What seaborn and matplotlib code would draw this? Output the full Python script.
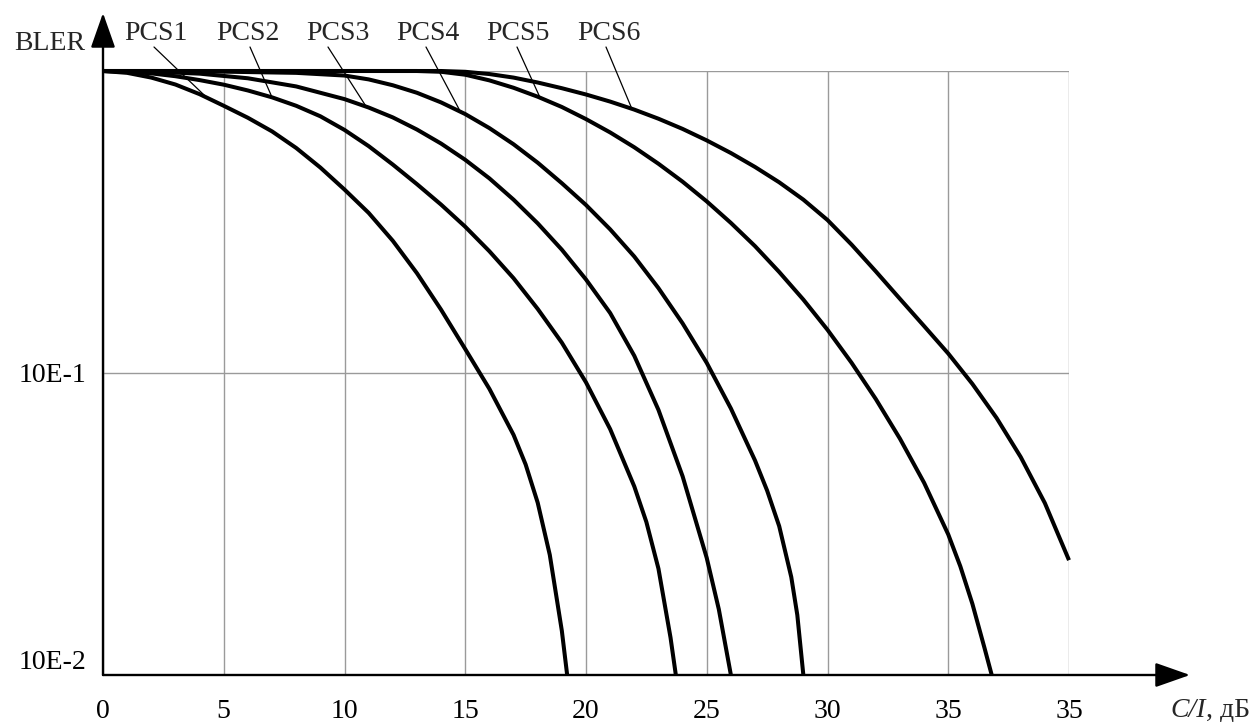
import numpy as np
import pandas as pd
import matplotlib
matplotlib.use("Agg")
import matplotlib.pyplot as plt
from matplotlib.ticker import NullLocator
import seaborn as sns

# C/I (dB) and BLER
ci_pcs1 = [0, 1, 2, 3, 4, 5, 6, 7, 8, 9, 10, 11, 12, 13, 14, 15, 16, 17, 17.5, 18, 18.5, 19, 19.22]
bler_pcs1 = [1.0, 0.986, 0.951, 0.902, 0.838, 0.767, 0.700, 0.631, 0.556, 0.479, 0.405, 0.339,
             0.274, 0.214, 0.162, 0.120, 0.0886, 0.0624, 0.0498, 0.0372, 0.0250, 0.0140, 0.0100]

ci_pcs2 = [0, 1, 2, 3, 4, 5, 6, 7, 8, 9, 10, 11, 12, 13, 14, 15, 16, 17, 18, 19, 20, 21, 22,
           22.5, 23, 23.5, 23.72]
bler_pcs2 = [1.0, 0.995, 0.982, 0.961, 0.933, 0.901, 0.862, 0.818, 0.767, 0.708, 0.638, 0.564,
             0.490, 0.422, 0.361, 0.305, 0.253, 0.206, 0.163, 0.126, 0.0931, 0.0652, 0.0421,
             0.0321, 0.0225, 0.0133, 0.0100]

ci_pcs3 = [0, 2, 4, 6, 8, 10, 11, 12, 13, 14, 15, 16, 17, 18, 19, 20, 21, 22, 23, 24, 25, 25.5, 26]
bler_pcs3 = [1.0, 0.995, 0.980, 0.946, 0.889, 0.807, 0.757, 0.702, 0.640, 0.575, 0.508, 0.441,
             0.375, 0.313, 0.256, 0.204, 0.158, 0.114, 0.0755, 0.0455, 0.0244, 0.0165, 0.0100]

ci_pcs4 = [0, 5, 8, 10, 11, 12, 13, 14, 15, 16, 17, 18, 19, 20, 21, 22, 23, 24, 25, 26, 27, 27.5,
           28, 28.5, 28.75, 29]
bler_pcs4 = [1.0, 0.995, 0.986, 0.966, 0.938, 0.897, 0.847, 0.787, 0.720, 0.647, 0.572, 0.497,
             0.425, 0.360, 0.299, 0.243, 0.191, 0.146, 0.108, 0.0763, 0.0513, 0.0408, 0.0311,
             0.0211, 0.0158, 0.0100]

ci_pcs5 = [0, 5, 10, 13, 14, 15, 16, 17, 18, 19, 20, 21, 22, 23, 24, 25, 26, 27, 28, 29, 30, 31,
           32, 33, 34, 35, 35.5, 36, 36.5, 36.8]
bler_pcs5 = [1.0, 1.0, 1.0, 1.0, 0.994, 0.972, 0.931, 0.880, 0.822, 0.760, 0.693, 0.626, 0.559,
             0.493, 0.430, 0.370, 0.314, 0.263, 0.216, 0.175, 0.139, 0.108, 0.0820, 0.0606,
             0.0433, 0.0292, 0.0229, 0.0172, 0.0123, 0.0100]

ci_pcs6 = [0, 5, 10, 14, 15, 16, 17, 18, 19, 20, 21, 22, 23, 24, 25, 26, 27, 28, 29, 30, 31, 32,
           33, 34, 35, 36, 37, 38, 39, 40]
bler_pcs6 = [1.0, 1.0, 1.0, 1.0, 0.994, 0.977, 0.951, 0.916, 0.877, 0.836, 0.792, 0.745, 0.695,
             0.643, 0.589, 0.535, 0.481, 0.428, 0.375, 0.321, 0.266, 0.217, 0.176, 0.143, 0.116,
             0.0920, 0.0710, 0.0527, 0.0371, 0.0240]

schemes = ["PCS1", "PCS2", "PCS3", "PCS4", "PCS5", "PCS6"]
x_ticks = [0, 5, 10, 15, 20, 25, 30, 35, 40]
x_tick_labels = ["0", "5", "10", "15", "20", "25", "30", "35", "35"]
y_ticks = [0.01, 0.1, 1.0]
y_tick_labels = ["10E-2", "10E-1", ""]
# C/I where each name's leader line meets its curve
leader_ci = [4.3, 7.0, 10.9, 14.8, 18.1, 21.9]

curves = [(ci_pcs1, bler_pcs1), (ci_pcs2, bler_pcs2), (ci_pcs3, bler_pcs3),
          (ci_pcs4, bler_pcs4), (ci_pcs5, bler_pcs5), (ci_pcs6, bler_pcs6)]
df = pd.concat([pd.DataFrame({"ci": x, "bler": y, "scheme": name})
                for name, (x, y) in zip(schemes, curves)], ignore_index=True)

sns.set_theme(style="white")
plt.rcParams["font.family"] = ["Liberation Serif", "DejaVu Serif"]
FS = 20

W, H = 1257, 722
fig = plt.figure(figsize=(W / 100, H / 100), dpi=100)
ax = fig.add_axes([103 / W, 47 / H, 966 / W, 604 / H])

sns.lineplot(data=df, x="ci", y="bler", hue="scheme", palette=["black"] * 6,
             sort=False, estimator=None, legend=False, linewidth=2.9, ax=ax)
for ln in ax.lines:
    ln.set_clip_on(False)
    ln.set_solid_capstyle("butt")
    ln.set_solid_joinstyle("round")

ax.set_yscale("log")
ax.set_xlim(0, 40)
ax.set_ylim(0.01, 1.0)
ax.set_xticks(x_ticks)
ax.set_xticklabels(x_tick_labels)
ax.set_yticks(y_ticks)
ax.set_yticklabels(y_tick_labels)
ax.yaxis.set_minor_locator(NullLocator())
ax.xaxis.set_minor_locator(NullLocator())
ax.tick_params(axis="both", length=0, labelsize=FS, colors="black")
ax.tick_params(axis="x", pad=17)
ax.tick_params(axis="y", pad=12)
ax.set_xlabel("")
ax.set_ylabel("")
ax.grid(True, which="major", color="#9a9a9a", linewidth=1.0)
ax.set_axisbelow(True)
for s in ax.spines.values():
    s.set_visible(False)
ax.get_yticklabels()[0].set_va("bottom")

# axes drawn as arrows
arrow = dict(arrowstyle="-|>,head_length=1.08,head_width=0.38", mutation_scale=20,
             lw=1.7, color="black", shrinkA=0, shrinkB=0)
ax.annotate("", xy=(0, (675 - 13) / 604), xytext=(0, 0), xycoords="axes fraction",
            arrowprops=arrow, annotation_clip=False)
ax.annotate("", xy=((1190 - 103) / 966, 0), xytext=(0, 0), xycoords="axes fraction",
            arrowprops=arrow, annotation_clip=False)

fig.text(85 / W, 1 - 50 / H, "BLER", ha="right", va="baseline", fontsize=FS)
t_ci = fig.text(1170 / W, 5 / H, "C/I", ha="left", va="baseline", fontsize=FS, style="italic")
ax.annotate(", дБ", xy=(1, 0), xycoords=t_ci, ha="left", va="bottom", fontsize=FS,
            annotation_clip=False)

# scheme names with leader lines
label_x = [156, 248, 338, 428, 518, 609]
leader_top = [154, 250, 328, 426, 517, 606]
for name, (x, y), lx, tx, cx in zip(schemes, curves, label_x, leader_top, leader_ci):
    fig.text(lx / W, 1 - 40 / H, name, ha="center", va="baseline", fontsize=FS)
    cy = 10 ** np.interp(cx, x, np.log10(y))
    ax.annotate("", xy=(cx, cy), xycoords="data", xytext=(tx, H - 47),
                textcoords="figure pixels",
                arrowprops=dict(arrowstyle="-", color="black", lw=0.9, shrinkA=0, shrinkB=0),
                annotation_clip=False)

fig.savefig("out.png", dpi=100)
